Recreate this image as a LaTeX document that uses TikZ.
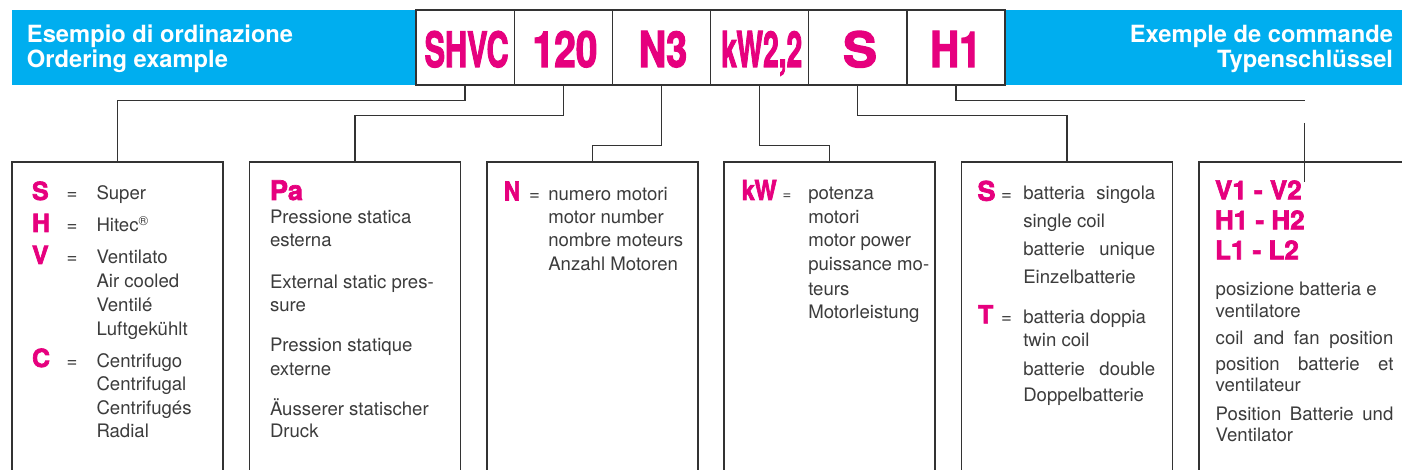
\documentclass[tikz,border=0pt]{standalone}
\usepackage{fontspec}
\usepackage{graphicx}
\setmainfont{TeX Gyre Heros}
\newfontfamily\heavyfont{texgyreheros-bold.otf}[FakeBold=2.6]
\definecolor{cyanbar}{HTML}{00AEEF}
\definecolor{mag}{HTML}{E6007E}
\definecolor{ink}{HTML}{3C3C3C}
\definecolor{rulec}{HTML}{333333}
\newcommand{\fitcode}[3]{\resizebox{#1}{#2}{\heavyfont #3}}
\tikzset{
  txt/.style={anchor=base west, inner sep=0pt, outer sep=0pt, text=ink, font=\fontsize{18.6}{22}\selectfont},
  magl/.style={anchor=base west, inner sep=0pt, outer sep=0pt, text=mag, font=\heavyfont\fontsize{25}{25}\selectfont},
  head/.style={inner sep=0pt, outer sep=0pt, text=white, font=\bfseries\fontsize{23.7}{25}\selectfont},
  codebox/.style={draw=rulec, line width=1.3pt, fill=white, minimum width=98.17pt, minimum height=75pt, inner sep=0pt, outer sep=0pt, anchor=north west},
  codetxt/.style={anchor=base, inner sep=0pt, outer sep=0pt, text=mag},
  legbox/.style={draw=rulec, line width=1.5pt, fill=white, minimum width=211pt, minimum height=330pt, inner sep=0pt, outer sep=0pt, anchor=north west},
  link/.style={draw=rulec, line width=1.2pt}
}
\begin{document}
\begin{tikzpicture}[x=1pt,y=-1pt]
\useasboundingbox (0,0) rectangle (1402,470);
\clip (0,0) rectangle (1402,470);
\fill[white] (0,0) rectangle (1402,470);
% blue bar
\fill[cyanbar] (12,10) rectangle (1402,85);
\node[head, anchor=base west] (h1) at (27,43) {Esempio di ordinazione};
\node[head, anchor=base west] (h2) at (27,68) {Ordering example};
\node[head, anchor=base east] (h3) at (1393,43) {Exemple de commande};
\node[head, anchor=base east] (h4) at (1393,68) {Typenschlüssel};
% code boxes
\node[codebox] (c1) at (416,10) {};
\node[codebox] (c2) at (514.17,10) {};
\node[codebox] (c3) at (612.34,10) {};
\node[codebox] (c4) at (710.51,10) {};
\node[codebox] (c5) at (808.68,10) {};
\node[codebox] (c6) at (906.85,10) {};
\node[codetxt] (t1) at (466.6,67) {\fitcode{84pt}{36pt}{SHVC}};
\node[codetxt] (t2) at (565,67) {\fitcode{65pt}{36pt}{120}};
\node[codetxt] (t3) at (663,67) {\fitcode{48.5pt}{36pt}{N3}};
\node[codetxt] (t4) at (761.7,67) {\fitcode{81pt}{36pt}{kW2,2}};
\node[codetxt] (t5) at (860,67) {\fitcode{34pt}{36pt}{S}};
\node[codetxt] (t6) at (955.8,67) {\fitcode{51pt}{36pt}{H1}};
% legend boxes
\node[legbox] (b1) at (12,162) {};
\node[legbox] (b2) at (249.5,162) {};
\node[legbox] (b3) at (487,162) {};
\node[legbox] (b4) at (724,162) {};
\node[legbox] (b5) at (961.5,162) {};
\node[legbox] (b6) at (1199,162) {};
% connectors
\draw[link] (c1.south) -- ++(0,15.7) -| (b1.north);
\draw[link] (c2.south) -- ++(0,30.7) -| (b2.north);
\draw[link] (c3.south) -- ++(0,60.7) -| (b3.north);
\draw[link] (c4.south) -- ++(0,60.7) -| (b4.north);
\draw[link] (c5.south) -- ++(0,30.7) -| (b5.north);
\coordinate (h1end) at (1305,100.7);
\draw[link] (c6.south) -- ++(0,15.7) -- (h1end);
\coordinate (vtop) at (1304.5,123);
\coordinate (vbot) at (1304.5,182);
\draw[link] (vtop) -- (vbot);
% box 1
\node[magl] (s1) at (32,200) {S};
\node[magl] (s2) at (32,232) {H};
\node[magl] (s3) at (32,264) {V};
\node[magl] (s4) at (32,367) {C};
\foreach \y [count=\i] in {200,232,264,367} {\node[txt] (e1\i) at (66.5,\y) {=};}
\foreach \y/\t [count=\i] in {200/Super,232/Hitec\textsuperscript{®},264/Ventilato,287.7/Air cooled,311/Ventilé,335/Luftgekühlt,367/Centrifugo,390.7/Centrifugal,414.3/Centrifugés,437.7/Radial}
  {\node[txt] (a\i) at (96.5,\y) {\t};}
% box 2
\node[magl, font=\heavyfont\fontsize{27}{27}\selectfont] (pa) at (270,200) {Pa};
\foreach \y/\t [count=\i] in {223.3/Pressione statica,246.7/esterna,288.3/External static pres-,311.7/sure,351.7/Pression statique,375/externe,415/Äusserer statischer,437.7/Druck}
  {\node[txt] (p\i) at (270,\y) {\t};}
% box 3
\node[codetxt, anchor=base west] (n1) at (504,200.5) {\fitcode{16pt}{19pt}{N}};
\node[txt] (e3) at (529,200.5) {=};
\foreach \y/\t [count=\i] in {200.7/numero motori,224/motor number,247/nombre moteurs,271/Anzahl Motoren}
  {\node[txt] (n\i t) at (548.3,\y) {\t};}
% box 4
\node[codetxt, anchor=base west] (kw) at (741.7,200) {\fitcode{35pt}{20pt}{kW}};
\node[txt, font=\fontsize{15}{18}\selectfont] (e4) at (782.7,200) {=};
\foreach \y/\t [count=\i] in {200/potenza,223.3/motori,246.7/motor power,270/puissance mo-,295/teurs,318.3/Motorleistung}
  {\node[txt] (k\i) at (808.3,\y) {\t};}
% box 5
\node[magl, font=\heavyfont\fontsize{27}{27}\selectfont] (s5) at (977.5,200.7) {S};
\node[magl, font=\heavyfont\fontsize{25}{25}\selectfont] (t5b) at (978,323.3) {T};
\node[txt] (e51) at (1001,200.7) {=};
\node[txt] (e52) at (1001,323.3) {=};
\node[txt] (q1) at (1023.3,200) {\makebox[132pt][s]{batteria singola}};
\node[txt] (q2) at (1023.3,227.3) {single coil};
\node[txt] (q3) at (1023.3,255) {\makebox[132pt][s]{batterie unique}};
\node[txt] (q4) at (1023.3,283.3) {Einzelbatterie};
\node[txt] (q5) at (1023.3,323.3) {batteria doppia};
\node[txt] (q6) at (1023.3,346.7) {twin coil};
\node[txt] (q7) at (1023.3,375) {\makebox[132pt][s]{batterie double}};
\node[txt] (q8) at (1023.3,401.7) {Doppelbatterie};
% box 6
\node[magl, font=\heavyfont\fontsize{26}{26}\selectfont] (v1) at (1215,199.3) {V1 - V2};
\node[magl, font=\heavyfont\fontsize{26}{26}\selectfont] (v2) at (1215,229.3) {H1 - H2};
\node[magl, font=\heavyfont\fontsize{26}{26}\selectfont] (v3) at (1215,259.3) {L1 - L2};
\node[txt] (r1) at (1215.7,295) {posizione batteria e};
\node[txt] (r2) at (1215.7,317) {ventilatore};
\node[txt] (r3) at (1215.7,344) {\makebox[177.7pt][s]{coil and fan position}};
\node[txt] (r4) at (1215.7,370) {\makebox[177.7pt][s]{position batterie et}};
\node[txt] (r5) at (1215.7,391.7) {ventilateur};
\node[txt] (r6) at (1215.7,420) {\makebox[177.7pt][s]{Position Batterie und}};
\node[txt] (r7) at (1215.7,441.7) {Ventilator};
\end{tikzpicture}
\end{document}
